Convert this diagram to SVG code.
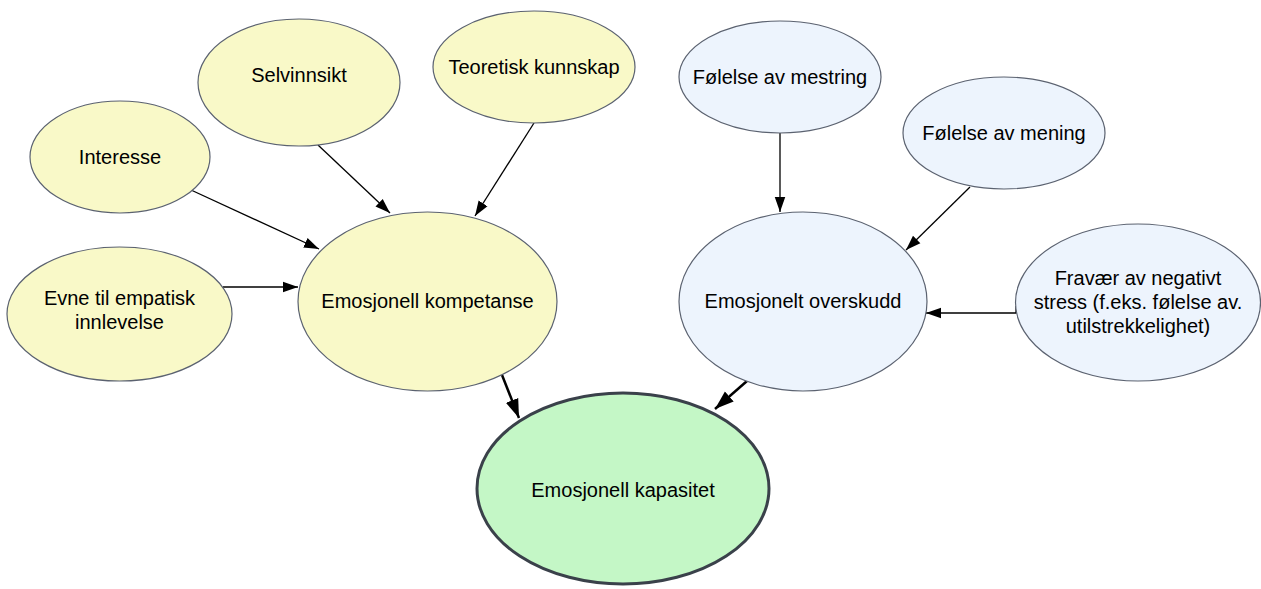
<svg xmlns="http://www.w3.org/2000/svg" width="1261" height="589" viewBox="0 0 1261 589">
<defs>
<style>
.y{fill:#f9f9c8;stroke:#5b6270;stroke-width:1.2}
.b{fill:#edf4fd;stroke:#5b6270;stroke-width:1.2}
.g{fill:#c4f7c6;stroke:#3a414a;stroke-width:3}
text{font-family:"Liberation Sans",Arial,sans-serif;font-size:20px;fill:#000;text-anchor:middle}
.c{stroke:#000;stroke-width:1.3;fill:none;marker-end:url(#a)}
.t{stroke:#000;stroke-width:2.5;fill:none;marker-end:url(#a2)}
</style>
<marker id="a" viewBox="0 0 10 10" refX="10" refY="5" markerWidth="15" markerHeight="15" markerUnits="userSpaceOnUse" orient="auto"><path d="M0,1.5 L10,5 L0,8.5 Z" fill="#000"/></marker>
<marker id="a2" viewBox="0 0 10 10" refX="10" refY="5" markerWidth="19" markerHeight="19" markerUnits="userSpaceOnUse" orient="auto"><path d="M0,1.5 L10,5 L0,8.5 Z" fill="#000"/></marker>
</defs>
<g id="connectors">
<line class="c" x1="318" y1="145" x2="390" y2="213"/>
<line class="c" x1="534" y1="123" x2="475" y2="216"/>
<line class="c" x1="191" y1="190" x2="319" y2="249"/>
<line class="c" x1="223" y1="287" x2="298" y2="287"/>
<line class="c" x1="780" y1="133" x2="780" y2="212"/>
<line class="c" x1="970" y1="187" x2="906" y2="250"/>
<polyline class="c" points="1016,306 1016,313 926,313"/>
<line class="t" x1="502" y1="375" x2="519" y2="418"/>
<line class="t" x1="747" y1="381" x2="715" y2="409"/>
</g>
<g id="selvinnsikt"><ellipse class="y" cx="299" cy="82.5" rx="101" ry="63.5"/><text x="299" y="82">Selvinnsikt</text></g>
<g id="teoretisk"><ellipse class="y" cx="534" cy="67" rx="101" ry="56"/><text x="534" y="74">Teoretisk kunnskap</text></g>
<g id="interesse"><ellipse class="y" cx="120" cy="157" rx="90" ry="56"/><text x="120" y="164">Interesse</text></g>
<g id="evne"><ellipse class="y" cx="119.5" cy="314" rx="112.5" ry="67"/><text x="119.5" y="305">Evne til empatisk</text><text x="119.5" y="329">innlevelse</text></g>
<g id="kompetanse"><ellipse class="y" cx="427.5" cy="301.5" rx="129.5" ry="89.5"/><text x="427.5" y="308">Emosjonell kompetanse</text></g>
<g id="mestring"><ellipse class="b" cx="780" cy="77" rx="101" ry="56"/><text x="780" y="84">Følelse av mestring</text></g>
<g id="mening"><ellipse class="b" cx="1004" cy="133" rx="101" ry="56"/><text x="1004" y="140">Følelse av mening</text></g>
<g id="overskudd"><ellipse class="b" cx="803" cy="301.5" rx="124" ry="89.5"/><text x="803" y="308">Emosjonelt overskudd</text></g>
<g id="fravaer"><ellipse class="b" cx="1138" cy="302.5" rx="122.5" ry="78.5"/><text x="1138" y="285">Fravær av negativt</text><text x="1138" y="309">stress (f.eks. følelse av.</text><text x="1138" y="333">utilstrekkelighet)</text></g>
<g id="kapasitet"><ellipse class="g" cx="623" cy="488.5" rx="146" ry="95.5"/><text x="623" y="497">Emosjonell kapasitet</text></g>
</svg>
